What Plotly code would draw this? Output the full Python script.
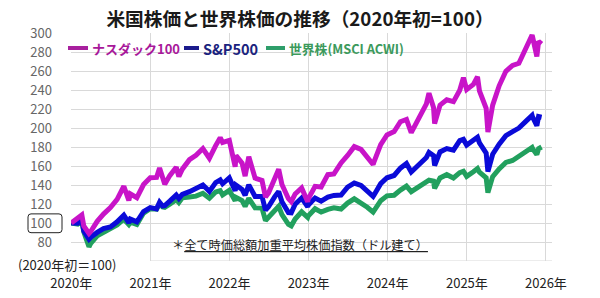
import plotly.graph_objects as go

dates = [
    "2020-01-01", "2020-01-31", "2020-02-19", "2020-02-28", "2020-03-23", "2020-03-31",
    "2020-04-30", "2020-05-29", "2020-06-30", "2020-07-31", "2020-08-31", "2020-09-23",
    "2020-09-30", "2020-10-30", "2020-11-30", "2020-12-31",
    "2021-01-29", "2021-02-12", "2021-02-26", "2021-03-08", "2021-03-31", "2021-04-30",
    "2021-05-12", "2021-05-28", "2021-06-30", "2021-07-30", "2021-08-31", "2021-09-30",
    "2021-10-29", "2021-11-19", "2021-11-30", "2021-12-31",
    "2022-01-27", "2022-01-31", "2022-02-28", "2022-03-14", "2022-03-31", "2022-04-29",
    "2022-05-31", "2022-06-16", "2022-06-30", "2022-07-29", "2022-08-16", "2022-08-31",
    "2022-09-30", "2022-10-13", "2022-10-31", "2022-11-30", "2022-12-28", "2022-12-30",
    "2023-01-31", "2023-02-28", "2023-03-31", "2023-04-28", "2023-05-31", "2023-06-30",
    "2023-07-31", "2023-08-31", "2023-09-29", "2023-10-26", "2023-10-31", "2023-11-30",
    "2023-12-29",
    "2024-01-31", "2024-02-29", "2024-03-28", "2024-04-19", "2024-04-30", "2024-05-31",
    "2024-06-28", "2024-07-10", "2024-07-31", "2024-08-05", "2024-08-30", "2024-09-30",
    "2024-10-31", "2024-11-29", "2024-12-16", "2024-12-31",
    "2025-01-31", "2025-02-19", "2025-02-28", "2025-03-31", "2025-04-08", "2025-04-30",
    "2025-05-30", "2025-06-30", "2025-07-31", "2025-08-29", "2025-09-30", "2025-10-29",
    "2025-10-31", "2025-11-20", "2025-11-28", "2025-12-12",
]

nasdaq100 = [
    100, 104.8, 108.5, 96.9, 89, 91,
    101.8, 109.4, 116.3, 124.9, 138.7, 123.7,
    130.7, 126.6, 140.5, 147.6,
    148.0, 158.0, 147.8, 140.8, 149.9, 158.7,
    148.9, 156.7, 166.7, 171.3, 178.4, 168.2,
    181.5, 189.8, 184.8, 186.9,
    159.2, 171.0, 163.0, 149.4, 169.9, 147.2,
    144.8, 127.4, 131.7, 148.3, 156.5, 140.5,
    125.6, 122.5, 130.6, 136.9, 122.3, 125.3,
    138.6, 137.9, 150.9, 151.7, 163.2, 171.1,
    180.4, 177.5, 168.5, 161.6, 165.0, 182.6,
    192.7,
    196.2, 206.6, 209.0, 195.1, 199.7, 212.3,
    225.4, 236.7, 221.7, 204.6, 224.1, 229.7,
    227.8, 239.7, 253.0, 240.6,
    245.9, 253.9, 239.1, 220.7, 195.7, 224.1,
    244.4, 259.7, 265.9, 268.1, 282.6, 297.9,
    296.1, 275.4, 291.2, 288.6,
]

sp500 = [
    100, 99.8, 103.5, 91.4, 83, 85,
    90.1, 94.2, 95.9, 101.2, 108.3, 100.2,
    104.1, 101.2, 112.1, 116.2,
    114.9, 121.8, 117.9, 118.3, 123.0, 129.4,
    125.8, 130.1, 133.0, 136.0, 140.0, 133.3,
    142.5, 145.4, 141.3, 147.5,
    133.9, 139.8, 135.4, 129.2, 140.2, 127.9,
    127.9, 113.5, 117.1, 127.8, 133.2, 122.4,
    111.0, 110.7, 119.8, 126.3, 117.1, 118.8,
    126.2, 122.9, 127.2, 129.0, 129.4, 137.7,
    142.0, 139.5, 132.7, 128.0, 129.8, 141.4,
    147.6,
    150.0, 157.7, 162.6, 153.7, 155.9, 163.4,
    169.0, 174.3, 170.9, 160.5, 174.8, 178.3,
    176.6, 186.7, 188.0, 182.0,
    187.0, 190.2, 184.3, 173.7, 154.2, 172.4,
    183.0, 192.0, 196.2, 199.9, 207.0, 213.3,
    211.7, 202.4, 212.0, 211.3,
]

acwi = [
    100, 98.9, 102.0, 90.8, 75, 78.5,
    86.5, 90.3, 93.2, 98.1, 104.0, 98.5,
    100.8, 98.4, 110.5, 115.0,
    114.5, 120.0, 117.0, 116.5, 119.8, 124.6,
    121.5, 126.5, 127.4, 128.3, 131.3, 126.0,
    132.6, 134.0, 129.6, 134.3,
    123.5, 127.0, 123.6, 117.5, 126.0, 115.9,
    115.7, 102.5, 106.0, 113.0, 117.5, 108.9,
    98.5, 97.0, 104.2, 111.8, 106.0, 107.2,
    115.0, 111.5, 114.4, 116.0, 114.7, 121.0,
    125.5, 121.6, 116.6, 111.5, 113.2, 123.5,
    128.6,
    129.2, 134.6, 138.8, 133.0, 134.5, 139.3,
    142.0, 145.0, 144.0, 136.5, 147.5, 150.9,
    147.4, 153.0, 154.5, 149.1,
    154.0, 157.3, 153.5, 147.5, 132.0, 148.8,
    157.0, 163.8, 165.8, 169.9, 175.3, 179.5,
    178.5, 172.0, 178.2, 180.0,
]

series_names = ["ナスダック100", "S&P500", "世界株(MSCI ACWI)"]
year_ticks = ["2020-01-01", "2021-01-01", "2022-01-01", "2023-01-01",
              "2024-01-01", "2025-01-01", "2026-01-01"]
year_labels = ["2020年", "2021年", "2022年", "2023年", "2024年", "2025年", "2026年"]
y_ticks = [80, 100, 120, 140, 160, 180, 200, 220, 240, 260, 280, 300]

FONT = "Noto Sans CJK JP"
line_colors = ["#C814C8", "#0A0AD8", "#22A05E"]
legend_line_colors = ["#A8209E", "#1B1B8C", "#2E9E6A"]
text_colors = ["#A8189A", "#1A237E", "#3C9A5C"]
legend_sizes = [13, 14.5, 12.8]

W, H = 600, 298
L, R, T, B = 71, 48, 33, 37
pw = W - L - R
ph = H - T - B

fig = go.Figure()
# draw ACWI first, Nasdaq on top
for name, vals, lc in reversed(list(zip(series_names, [nasdaq100, sp500, acwi], line_colors))):
    fig.add_trace(go.Scatter(
        x=dates, y=vals, mode="lines", name=name, showlegend=False,
        line=dict(color=lc, width=5),
    ))

fig.update_layout(
    width=W, height=H,
    margin=dict(l=L, r=R, t=T, b=B, autoexpand=False),
    paper_bgcolor="white", plot_bgcolor="white",
    font=dict(family=FONT, color="#333333", size=13),
    title=dict(text="<b>米国株価と世界株価の推移（2020年初=100）</b>",
               x=0.5, xanchor="center", y=1 - 19 / H, yanchor="middle",
               font=dict(size=18.7, color="#1a1a1a", family=FONT)),
    xaxis=dict(
        range=["2019-12-31", "2026-01-29"],
        tickvals=year_ticks, ticktext=year_labels,
        showgrid=True, gridcolor="#D9D9D9", gridwidth=1,
        showline=False, zeroline=False, ticks="",
        tickfont=dict(size=13, color="#222222"),
        ticklabelstandoff=13, automargin=False,
    ),
    yaxis=dict(
        range=[60, 300],
        tickvals=y_ticks, ticktext=[str(v) for v in y_ticks],
        showgrid=True, gridcolor="#D9D9D9", gridwidth=1,
        showline=False, zeroline=False, ticks="",
        tickfont=dict(size=13, color="#666666"),
        ticklabelstandoff=18, automargin=False,
    ),
)

def px_x(px):
    return (px - L) / pw

def px_y(py):
    return 1 - (py - T) / ph

# custom legend (line sample + coloured bold text)
legend_y = 48
legend_pos = [(68, 88, 90), (184, 199, 201), (266, 285, 287)]
for name, lcol, tcol, fs, (lx0, lx1, tx) in zip(series_names, legend_line_colors, text_colors,
                                                  legend_sizes, legend_pos):
    fig.add_shape(type="line", xref="paper", yref="paper",
                  x0=px_x(lx0), x1=px_x(lx1), y0=px_y(legend_y), y1=px_y(legend_y),
                  line=dict(color=lcol, width=4))
    fig.add_annotation(text=f"<b>{name}</b>", xref="paper", yref="paper",
                       x=px_x(tx), y=px_y(legend_y), xanchor="left", yanchor="middle",
                       showarrow=False, font=dict(size=fs, color=tcol, family=FONT))

# bottom gridline (60) visible only from 2021 onward
fig.add_shape(type="line", xref="x", yref="y", x0="2021-01-01", x1="2026-01-29",
              y0=60, y1=60, line=dict(color="#D9D9D9", width=1), layer="below")

# rounded box around the 100 label
x0p, x1p = px_x(28), px_x(62)
rx = 3 / pw
ry = 3.2
y0d, y1d = 89.8, 109.6
path = (f"M{x0p + rx},{y0d} L{x1p - rx},{y0d} Q{x1p},{y0d} {x1p},{y0d + ry} "
        f"L{x1p},{y1d - ry} Q{x1p},{y1d} {x1p - rx},{y1d} "
        f"L{x0p + rx},{y1d} Q{x0p},{y1d} {x0p},{y1d - ry} "
        f"L{x0p},{y0d + ry} Q{x0p},{y0d} {x0p + rx},{y0d} Z")
fig.add_shape(type="path", xref="paper", yref="y", path=path,
              line=dict(color="#222222", width=1))

fig.add_annotation(text="(2020年初＝100)", xref="paper", yref="paper",
                   x=px_x(67), y=px_y(264), showarrow=False,
                   font=dict(size=13, color="#222222", family=FONT),
                   xanchor="center", yanchor="middle")
fig.add_annotation(text="＊<u>全て時価総額加重平均株価指数（ドル建て）</u>", xref="paper", yref="paper",
                   x=px_x(300), y=px_y(245), showarrow=False,
                   font=dict(size=12.2, color="#222222", family=FONT),
                   xanchor="center", yanchor="middle")

fig.write_html("out.html")
